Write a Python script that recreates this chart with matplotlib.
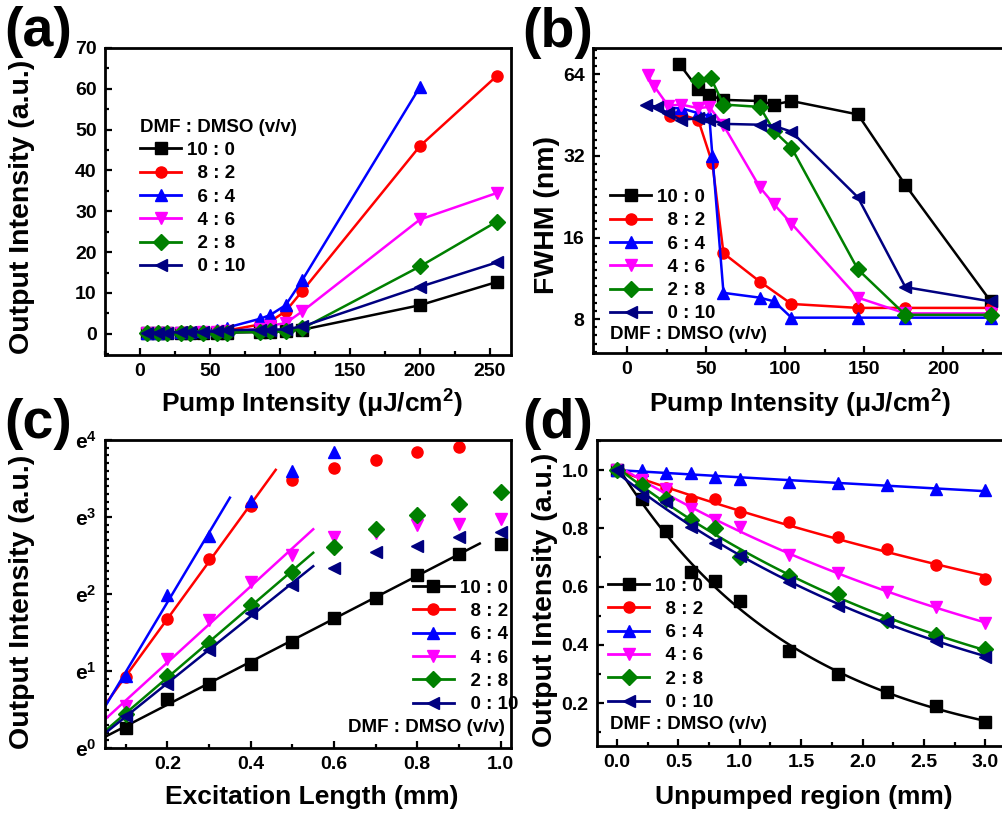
import matplotlib
matplotlib.use('Agg')
import matplotlib.pyplot as plt
import matplotlib.ticker as mticker
from matplotlib.lines import Line2D
import numpy as np

plt.rcParams['font.family'] = ['Liberation Sans', 'DejaVu Sans']
plt.rcParams['font.weight'] = 'bold'
plt.rcParams['mathtext.fontset'] = 'custom'
plt.rcParams['mathtext.rm'] = 'Liberation Sans:bold'
plt.rcParams['mathtext.it'] = 'Liberation Sans:bold'
plt.rcParams['mathtext.bf'] = 'Liberation Sans:bold'
plt.rcParams['mathtext.default'] = 'rm'

# ---- data ----
labels = ['10 : 0', '  8 : 2', '  6 : 4', '  4 : 6', '  2 : 8', '  0 : 10']
colors = ['black', 'red', 'blue', 'magenta', 'green', 'navy']
markers = ['s', 'o', '^', 'v', 'D', '<']

# (a) output intensity vs pump intensity
x_a = [5, 13, 19, 29, 36, 45, 55, 62, 86, 93, 104, 116, 200, 255]
black_a = [0.2, 0.2, 0.2, 0.2, 0.2, 0.2, 0.3, 0.3, 0.4, 0.5, 0.6, 1.0, 7.0, 12.7]
red_a = [0.3, 0.3, 0.3, 0.4, 0.4, 0.5, 0.6, 0.8, 2.3, 3.0, 5.5, 10.5, 46.0, 63.2]
blue_a = [0.3, 0.3, 0.4, 0.4, 0.5, 0.6, 0.9, 1.5, 3.7, 4.6, 7.0, 13.2, 60.5]
magenta_a = [0.2, 0.2, 0.3, 0.3, 0.3, 0.4, 0.5, 0.6, 1.2, 2.0, 2.6, 5.5, 28.0, 34.5]
green_a = [0.1, 0.1, 0.1, 0.1, 0.1, 0.2, 0.2, 0.3, 0.5, 0.6, 0.7, 1.3, 16.5, 27.5]
navy_a = [0.3, 0.3, 0.3, 0.4, 0.4, 0.5, 0.6, 0.9, 1.0, 1.0, 1.1, 1.8, 11.5, 17.5]

# (b) FWHM vs pump intensity
black_bx = [33, 45, 52, 61, 84, 93, 104, 146, 176, 230]
black_by = [70, 56.5, 53.5, 51.5, 51, 49.5, 51, 45.5, 25, 9.3]
red_bx = [27, 34, 45, 54, 61, 84, 104, 146, 176, 230]
red_by = [45, 45.5, 43.5, 30, 14, 11, 9.1, 8.8, 8.8, 8.8]
blue_bx = [27, 34, 45, 52, 54, 61, 84, 93, 104, 146, 176, 230]
blue_by = [48, 48, 46, 45, 32, 10, 9.6, 9.3, 8.1, 8.1, 8.1, 8.1]
magenta_bx = [13, 17, 26, 34, 45, 52, 61, 84, 93, 104, 146, 176, 230]
magenta_by = [63.5, 58, 49, 49.5, 48, 48.5, 41.5, 24.5, 21.2, 18, 9.6, 8.4, 8.4]
green_bx = [45, 53, 61, 84, 93, 104, 146, 176, 230]
green_by = [61, 62, 49.5, 48.5, 39.5, 34.3, 12.2, 8.3, 8.3]
navy_bx = [12, 19, 26, 34, 45, 52, 61, 84, 93, 104, 146, 176, 230]
navy_by = [49.5, 48.5, 46, 43.5, 44, 43.5, 42, 41.7, 41.3, 39.3, 22.5, 10.5, 9.3]

# (c) ln(output intensity) vs excitation length
x_c = [0.1, 0.2, 0.3, 0.4, 0.5, 0.6, 0.7, 0.8, 0.9, 1.0]
black_c = [0.26, 0.63, 0.83, 1.09, 1.38, 1.69, 1.95, 2.25, 2.52, 2.65]
red_c = [0.92, 1.68, 2.46, 3.14, 3.48, 3.63, 3.74, 3.84, 3.91]
blue_c = [0.94, 1.99, 2.75, 3.21, 3.60, 3.84]
magenta_c = [0.54, 1.16, 1.66, 2.16, 2.51, 2.74, 2.79, 2.90, 2.91, 2.97]
green_c = [0.44, 0.93, 1.37, 1.86, 2.29, 2.61, 2.85, 3.02, 3.17, 3.32]
navy_c = [0.41, 0.83, 1.27, 1.75, 2.12, 2.34, 2.54, 2.62, 2.74, 2.81]
fit_npts_c = [9, 4, 3, 5, 5, 5]          # points used in the linear fit
fit_end_c = [0.95, 0.46, 0.35, 0.55, 0.55, 0.55]

# (d) normalized output vs unpumped region
x_d = [0, 0.2, 0.4, 0.6, 0.8, 1.0, 1.4, 1.8, 2.2, 2.6, 3.0]
black_d = [1.0, 0.90, 0.79, 0.65, 0.62, 0.55, 0.38, 0.30, 0.24, 0.19, 0.135]
red_d = [1.0, 0.96, 0.94, 0.90, 0.90, 0.855, 0.82, 0.77, 0.73, 0.675, 0.625]
blue_d = [1.0, 1.0, 0.99, 0.99, 0.977, 0.968, 0.96, 0.957, 0.949, 0.934, 0.931]
magenta_d = [1.0, 0.965, 0.935, 0.865, 0.83, 0.805, 0.71, 0.645, 0.58, 0.53, 0.475]
green_d = [1.0, 0.95, 0.90, 0.83, 0.80, 0.70, 0.635, 0.575, 0.485, 0.435, 0.385]
navy_d = [1.0, 0.91, 0.89, 0.805, 0.75, 0.705, 0.615, 0.535, 0.48, 0.415, 0.36]

W, H = 1002, 815
fig = plt.figure(figsize=(W / 100, H / 100), dpi=100)


def px_axes(l, t, r, b):
    return fig.add_axes([l / W, 1 - b / H, (r - l) / W, (b - t) / H])


def style(ax):
    for s in ax.spines.values():
        s.set_linewidth(2.0)
    ax.tick_params(which='both', direction='in', top=False, right=False,
                   labelsize=14, width=1.6, pad=6)
    ax.tick_params(which='major', length=5)
    ax.tick_params(which='minor', length=3)
    for t in ax.get_xticklabels() + ax.get_yticklabels():
        t.set_fontweight('bold')


def handles():
    return [Line2D([], [], color=c, marker=m, lw=2, ms=8) for c, m in zip(colors, markers)]


lab_kw = dict(fontsize=19, fontweight='bold')
ylab_kw = dict(fontsize=20.5, fontweight='bold', rotation=90, ha='center', va='center')
leg_kw = dict(frameon=False, fontsize=13.5, handlelength=2.2, handletextpad=0.3,
              labelspacing=0.33, borderpad=0, borderaxespad=0)
ms = 8

# ---------- (a) ----------
ax = px_axes(105, 48, 511, 355)
for y, c, m in zip([black_a, red_a, blue_a, magenta_a, green_a, navy_a], colors, markers):
    ax.plot(x_a[:len(y)], y, color=c, marker=m, lw=1.8, ms=ms)
ax.set_xlim(-25, 265)
ax.set_ylim(-5.2, 70)
ax.xaxis.set_major_locator(mticker.MultipleLocator(50))
ax.xaxis.set_minor_locator(mticker.MultipleLocator(25))
ax.yaxis.set_major_locator(mticker.MultipleLocator(10))
ax.yaxis.set_minor_locator(mticker.MultipleLocator(5))
style(ax)
leg = ax.legend(handles(), labels, loc='upper left', bbox_to_anchor=(0.086, 0.77),
                title='DMF : DMSO (v/v)', alignment='left',
                title_fontproperties={'size': 13.5, 'weight': 'bold'}, **leg_kw)
fig.text(312 / W, 1 - 404 / H, 'Pump Intensity (μJ/cm$^{2}$)', ha='center', va='center', **lab_kw)
fig.text(22 / W, 1 - 207 / H, 'Output Intensity (a.u.)', **ylab_kw)

# ---------- (b) ----------
ax = px_axes(593, 48, 1005, 353)
bx = [black_bx, red_bx, blue_bx, magenta_bx, green_bx, navy_bx]
by = [black_by, red_by, blue_by, magenta_by, green_by, navy_by]
for x, y, c, m in zip(bx, by, colors, markers):
    ax.plot(x, y, color=c, marker=m, lw=1.8, ms=ms)
ax.set_yscale('log', base=2)
ax.set_xlim(-21.5, 239)
ax.set_ylim(6.0, 80)
ax.xaxis.set_major_locator(mticker.MultipleLocator(50))
ax.xaxis.set_minor_locator(mticker.MultipleLocator(25))
ax.yaxis.set_major_locator(mticker.FixedLocator([8, 16, 32, 64]))
ax.yaxis.set_major_formatter(mticker.FormatStrFormatter('%d'))
ax.yaxis.set_minor_locator(mticker.FixedLocator(2 ** np.arange(2.5, 6.4, 0.1)))
ax.yaxis.set_minor_formatter(mticker.NullFormatter())
style(ax)
ax.legend(handles(), labels, loc='lower left', bbox_to_anchor=(0.041, 0.10), **leg_kw)
ax.text(0.041, 0.062, 'DMF : DMSO (v/v)', transform=ax.transAxes, fontsize=13.5,
        fontweight='bold', va='center', ha='left')
fig.text(800 / W, 1 - 404 / H, 'Pump Intensity (μJ/cm$^{2}$)', ha='center', va='center', **lab_kw)
fig.text(547 / W, 1 - 215 / H, 'FWHM (nm)', **ylab_kw)

# ---------- (c) ----------
ax = px_axes(105, 440, 511, 748)
for y, c, m, n, xe in zip([black_c, red_c, blue_c, magenta_c, green_c, navy_c],
                          colors, markers, fit_npts_c, fit_end_c):
    ax.plot(x_c[:len(y)], np.exp(y), ls='none', color=c, marker=m, ms=ms)
    k, b0 = np.polyfit(x_c[:n], y[:n], 1)
    xf = np.array([0.05, xe])
    ax.plot(xf, np.exp(k * xf + b0), color=c, lw=1.8)
ax.set_yscale('log', base=np.e)
ax.set_xlim(0.05, 1.025)
ax.set_ylim(1, np.e ** 4)
ax.xaxis.set_major_locator(mticker.MultipleLocator(0.2))
ax.xaxis.set_minor_locator(mticker.MultipleLocator(0.1))
ax.xaxis.set_major_formatter(mticker.FormatStrFormatter('%.1f'))
ax.yaxis.set_major_locator(mticker.FixedLocator(np.exp(np.arange(5))))
ax.yaxis.set_major_formatter(mticker.FuncFormatter(lambda v, p: 'e$^{%d}$' % round(np.log(v))))
ax.yaxis.set_minor_locator(mticker.FixedLocator(np.exp(np.arange(0, 4.0, 0.1))))
ax.yaxis.set_minor_formatter(mticker.NullFormatter())
style(ax)
ax.tick_params(axis='y', labelsize=15)
ax.legend(handles(), labels, loc='lower left', bbox_to_anchor=(0.758, 0.113), **leg_kw)
ax.text(0.985, 0.065, 'DMF : DMSO (v/v)', transform=ax.transAxes, fontsize=13.5,
        fontweight='bold', va='center', ha='right')
fig.text(312 / W, 1 - 797 / H, 'Excitation Length (mm)', ha='center', va='center', **lab_kw)
fig.text(22 / W, 1 - 602 / H, 'Output Intensity (a.u.)', **ylab_kw)

# ---------- (d) ----------
ax = px_axes(597, 440, 1005, 746)
xd = np.array(x_d)
xs = np.linspace(0, 3, 100)
for y, c, m in zip([black_d, red_d, blue_d, magenta_d, green_d, navy_d], colors, markers):
    ax.plot(xd, y, ls='none', color=c, marker=m, ms=ms)
    k, b0 = np.polyfit(xd, np.log(y), 1)
    ax.plot(xs, np.exp(k * xs + b0), color=c, lw=1.8)
ax.set_xlim(-0.163, 3.16)
ax.set_ylim(0.053, 1.103)
ax.xaxis.set_major_locator(mticker.MultipleLocator(0.5))
ax.xaxis.set_minor_locator(mticker.MultipleLocator(0.25))
ax.xaxis.set_major_formatter(mticker.FormatStrFormatter('%.1f'))
ax.yaxis.set_major_locator(mticker.MultipleLocator(0.2))
ax.yaxis.set_minor_locator(mticker.MultipleLocator(0.1))
ax.yaxis.set_major_formatter(mticker.FormatStrFormatter('%.1f'))
style(ax)
ax.legend(handles(), labels, loc='lower left', bbox_to_anchor=(0.027, 0.114), **leg_kw)
ax.text(0.032, 0.069, 'DMF : DMSO (v/v)', transform=ax.transAxes, fontsize=13.5,
        fontweight='bold', va='center', ha='left')
fig.text(804 / W, 1 - 797 / H, 'Unpumped region (mm)', ha='center', va='center', **lab_kw)
fig.text(545 / W, 1 - 600 / H, 'Output Intensity (a.u.)', **ylab_kw)

# panel letters
for s, x, y in [('(a)', 72, 32), ('(b)', 593, 33), ('(c)', 72, 424), ('(d)', 593, 424)]:
    fig.text(x / W, 1 - y / H, s, fontsize=40, fontweight='bold', ha='right', va='center')

fig.savefig('out.png', dpi=100)
